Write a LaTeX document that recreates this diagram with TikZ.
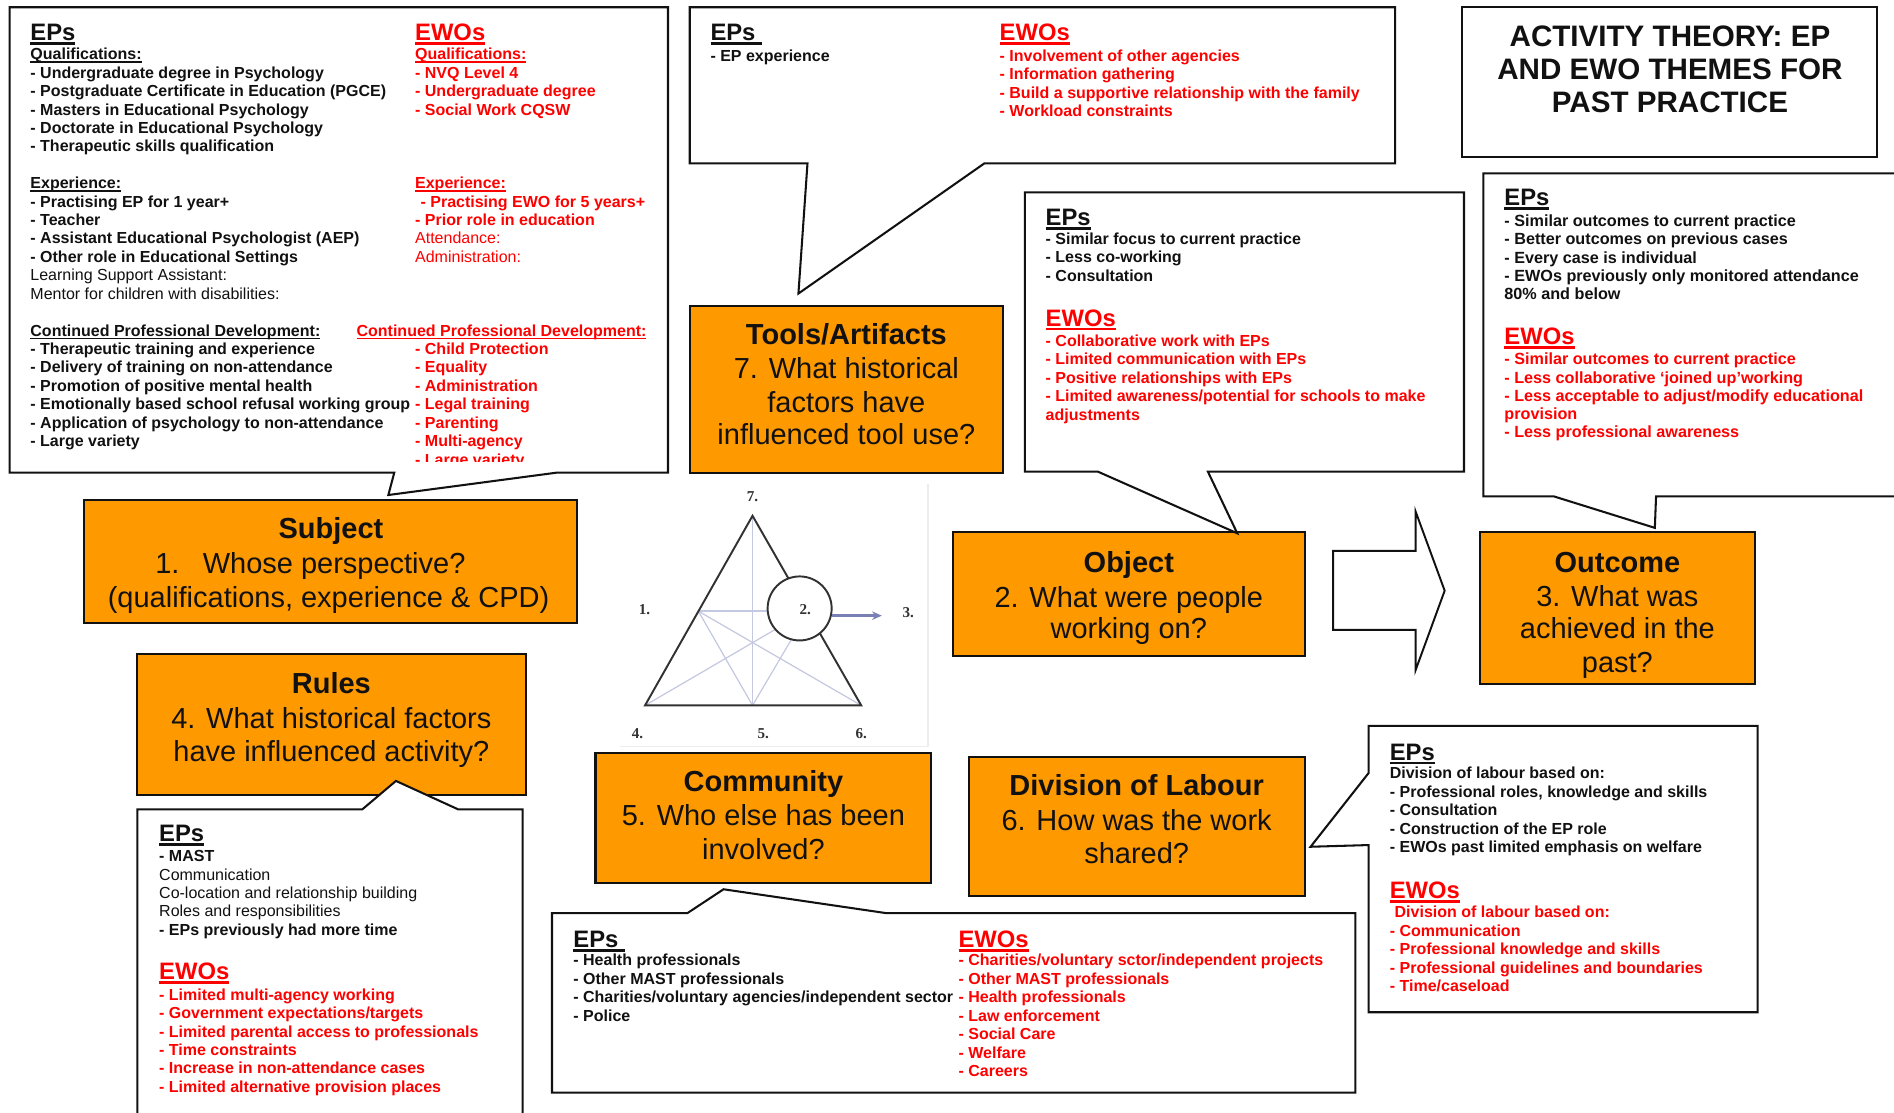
\documentclass[tikz,border=0pt]{standalone}
\usepackage{fontspec}
\setmainfont{Liberation Sans}
\newfontfamily\labserif{Liberation Serif}
\usetikzlibrary{arrows.meta}

\definecolor{orng}{RGB}{255,153,0}
\definecolor{ewored}{RGB}{255,0,0}
\definecolor{ink}{RGB}{17,17,17}
\definecolor{faintline}{RGB}{196,200,224}
\definecolor{figarrow}{RGB}{120,128,180}
\definecolor{figink}{RGB}{50,50,50}

% underlined headings and sub-headings
\newcommand\headul[1]{\setbox0\hbox{#1}\rlap{\rule[-3.4pt]{\wd0}{2.1pt}}\box0}
\newcommand\subul[1]{\setbox0\hbox{#1}\rlap{\rule[-2.3pt]{\wd0}{1.1pt}}\box0}
% a block of lines with a fixed line pitch; its baseline is the first line's
\newcommand\tline[1]{\hbox{#1}}
\newcommand\tblock[2]{\vtop{\baselineskip=#1\lineskiplimit=-1000pt\lineskip=0pt\relax #2}}
\newcommand\bodyf{\fontsize{13.25}{15.25}\selectfont\bfseries}
\newcommand\bodyfl{\fontsize{13.4}{15.1}\selectfont\bfseries}

\tikzset{
  callout/.style={draw=ink, line width=1.7pt, fill=white, line join=miter},
  obox/.style={draw=ink, line width=1.7pt, fill=orng, inner sep=0pt},
  txt/.style={inner sep=0pt, anchor=base west, text=ink, font=\bodyf},
  redtxt/.style={txt, text=ewored},
  head/.style={inner sep=0pt, anchor=base west, text=ink, font=\fontsize{19.7}{22}\selectfont\bfseries},
  redhead/.style={head, text=ewored},
  boxtxt/.style={inner sep=0pt, anchor=base, text=ink, font=\fontsize{24}{28}\selectfont},
  boxhead/.style={boxtxt, font=\fontsize{24}{28}\selectfont\bfseries},
  figlab/.style={inner sep=0pt, text=figink, font=\labserif\fontsize{12.5}{14}\selectfont\bfseries},
  figline/.style={draw=faintline, line width=1pt},
  figedge/.style={draw=figink, line width=1.6pt},
}

\begin{document}
\begin{tikzpicture}[x=1pt,y=-1pt]
\useasboundingbox (0,0) rectangle (1568,921);
\fill[white] (0,0) rectangle (1568,921);

% ---------- orange activity-system boxes ----------
\node[obox, minimum width=407.9pt, minimum height=102pt]   (subjectbox)   at (273.45,465)   {};
\node[obox, minimum width=322.2pt, minimum height=116.4pt] (rulesbox)     at (274.3,599.8)  {};
\node[obox, minimum width=259.5pt, minimum height=138.5pt] (toolsbox)     at (700.75,322.55) {};
\node[obox, minimum width=291pt,   minimum height=102.3pt] (objectbox)    at (934.5,491.85) {};
\node[obox, minimum width=228pt,   minimum height=125.8pt] (outcomebox)   at (1339,503.6)   {};
\node[obox, minimum width=277.6pt, minimum height=107.6pt] (communitybox) at (631.8,677.4)  {};
\node[obox, minimum width=278.3pt, minimum height=114.4pt] (divisionbox)  at (941.15,684.2) {};

% ---------- title ----------
\node[draw=ink, line width=1.7pt, minimum width=343.7pt, minimum height=124.1pt, inner sep=0pt] (titlebox) at (1382.15,68.15) {};

% ---------- speech-bubble callouts ----------
\draw[callout] (8,6) -- (553,6) -- (553,391.3) -- (460.8,391.3) -- (321.5,409.8) -- (326.4,391.3) -- (8,391.3) -- cycle;
\draw[callout] (571,6) -- (1155,6) -- (1155,135.2) -- (815,135.2) -- (661,243) -- (668.5,135.2) -- (571,135.2) -- cycle;
\draw[callout] (848.4,159.2) -- (1212,159.2) -- (1212,390.5) -- (1000,390.5) -- (1024.3,441.5) -- (909,390.5) -- (848.4,390.5) -- cycle;
\draw[callout] (1620,143.5) -- (1228,143.5) -- (1228,411) -- (1286.6,411) -- (1370,437) -- (1371,411) -- (1620,411);
\draw[callout] (113.7,940) -- (113.7,670) -- (300,670) -- (327.8,646.5) -- (379.2,670) -- (432.7,670) -- (432.7,940);
\draw[callout] (457,756) -- (569,756) -- (599,736.2) -- (734,756) -- (1122,756) -- (1122,904.6) -- (457,904.6) -- cycle;
\draw[callout] (1133,601) -- (1455,601) -- (1455,838) -- (1133,838) -- (1133,699.6) -- (1085,701) -- (1133,640) -- cycle;

% ---------- hollow block arrow: object to outcome ----------
\draw[callout, line width=1.6pt] (1103.6,456) -- (1172,456) -- (1172,423.6) -- (1196,489) -- (1172,554.6) -- (1172,521.5) -- (1103.6,521.5) -- cycle;

% ---------- activity-theory triangle ----------
\draw[draw=black!7, line width=1.4pt] (513,618) -- (768,618) -- (768,401);
\coordinate (apex) at (623,427);
\coordinate (bl) at (534,584);
\coordinate (br) at (713,584);
\coordinate (bm) at (623,584);
\coordinate (lm) at (578.1,505.9);
\coordinate (ctr) at (662,503.7);
\draw[figline] (apex) -- (bm);
\draw[figline] (lm) -- (637.3,505.9);
\draw[figline] (lm) -- (bm);
\draw[figline] (lm) -- (br);
\draw[figline] (bl) -- (642,521);
\draw[figline] (bm) -- (655,529.7);
\draw[figedge, line join=miter] (apex) -- (bl) -- (br) -- cycle;
\draw[figedge, fill=white] (ctr) circle[radius=26.5];
\draw[draw=figarrow, line width=2pt, -{Stealth[length=8pt,width=7pt]}] (688.5,509.7) -- (730,509.7);
\node[figlab] (lab7) at (623,411) {7.};
\node[figlab] (lab1) at (533.5,505) {1.};
\node[figlab] (lab2) at (666.7,505) {2.};
\node[figlab] (lab3) at (752,507) {3.};
\node[figlab] (lab4) at (527.7,607) {4.};
\node[figlab] (lab5) at (631.8,607) {5.};
\node[figlab] (lab6) at (713,607) {6.};

% ---------- title text ----------
\node[inner sep=0pt, anchor=base, text=ink, font=\fontsize{24.5}{27}\selectfont\bfseries] (titletext) at (1382.5,38.3)
  {\tblock{27.6pt}{\hbox to 0pt{\hss ACTIVITY THEORY: EP\hss}\hbox to 0pt{\hss AND EWO THEMES FOR\hss}\hbox to 0pt{\hss PAST PRACTICE\hss}}};

% ---------- orange box texts ----------
\node[boxhead] (subjectT) at (274,446) {Subject};
\node[boxtxt, anchor=base west] (subjectN) at (128.4,474.5) {1.};
\node[boxtxt, anchor=base west] (subjectQ) at (167.7,474.5) {Whose perspective?};
\node[boxtxt] (subjectQ2) at (272,502.6) {(qualifications, experience \& CPD)};

\node[boxhead] (rulesT) at (274.3,574.2) {Rules};
\node[boxtxt] (rulesQ1) at (274.3,602.9) {4. What historical factors};
\node[boxtxt] (rulesQ2) at (274.3,630.5) {have influenced activity?};

\node[boxhead] (toolsT) at (700.7,285) {Tools/Artifacts};
\node[boxtxt] (toolsQ1) at (700.7,313.1) {7. What historical};
\node[boxtxt] (toolsQ2) at (700.7,341.5) {factors have};
\node[boxtxt] (toolsQ3) at (700.7,368.2) {influenced tool use?};

\node[boxhead] (objectT) at (934.5,473.6) {Object};
\node[boxtxt] (objectQ1) at (934.5,502.6) {2. What were people};
\node[boxtxt] (objectQ2) at (934.5,528.9) {working on?};

\node[boxhead] (outcomeT) at (1339,473.6) {Outcome};
\node[boxtxt] (outcomeQ1) at (1339,502.1) {3. What was};
\node[boxtxt] (outcomeQ2) at (1339,528.9) {achieved in the};
\node[boxtxt] (outcomeQ3) at (1339,556.6) {past?};

\node[boxhead] (communityT) at (632,655.6) {Community};
\node[boxtxt] (communityQ1) at (632,683.6) {5. Who else has been};
\node[boxtxt] (communityQ2) at (632,711.6) {involved?};

\node[boxhead] (divisionT) at (941,658.6) {Division of Labour};
\node[boxtxt] (divisionQ1) at (941,687.6) {6. How was the work};
\node[boxtxt] (divisionQ2) at (941,714.6) {shared?};

% ---------- subject callout ----------
\node[head] (subjEPh) at (25,33.5) {\headul{EPs}};
\node[redhead] (subjEWh) at (343.5,33.5) {\headul{EWOs}};
\node[txt] (subjEP) at (25,49.5) {\tblock{15.25pt}{%
  \tline{\subul{Qualifications:}}
  \tline{- Undergraduate degree in Psychology}
  \tline{- Postgraduate Certificate in Education (PGCE)}
  \tline{- Masters in Educational Psychology}
  \tline{- Doctorate in Educational Psychology}
  \tline{- Therapeutic skills qualification}
  \tline{}
  \tline{\subul{Experience:}}
  \tline{- Practising EP for 1 year+}
  \tline{- Teacher}
  \tline{- Assistant Educational Psychologist (AEP)}
  \tline{- Other role in Educational Settings}
  \tline{\mdseries Learning Support Assistant:}
  \tline{\mdseries Mentor for children with disabilities:}
  \tline{}
  \tline{\subul{Continued Professional Development:}}
  \tline{- Therapeutic training and experience}
  \tline{- Delivery of training on non-attendance}
  \tline{- Promotion of positive mental health}
  \tline{- Emotionally based school refusal working group}
  \tline{- Application of psychology to non-attendance}
  \tline{- Large variety}}};
\node[redtxt] (subjEWcpd) at (295,278.25) {\subul{Continued Professional Development:}};
\begin{scope}
\clip (330,20) rectangle (552,382.3);
\node[redtxt] (subjEW) at (343.5,49.5) {\tblock{15.25pt}{%
  \tline{\subul{Qualifications:}}
  \tline{- NVQ Level 4}
  \tline{- Undergraduate degree}
  \tline{- Social Work CQSW}
  \tline{}\tline{}\tline{}
  \tline{\subul{Experience:}}
  \tline{\kern4.5pt- Practising EWO for 5 years+}
  \tline{- Prior role in education}
  \tline{\mdseries Attendance:}
  \tline{\mdseries Administration:}
  \tline{}\tline{}\tline{}\tline{}
  \tline{- Child Protection}
  \tline{- Equality}
  \tline{- Administration}
  \tline{- Legal training}
  \tline{- Parenting}
  \tline{- Multi-agency}
  \tline{- Large variety}}};
\end{scope}

% ---------- tools callout ----------
\node[head] (toolEPh) at (588,33.7) {\headul{EPs\ }};
\node[txt] (toolEP) at (588,50.7) {- EP experience};
\node[redhead] (toolEWh) at (827.4,33.7) {\headul{EWOs}};
\node[redtxt] (toolEW) at (827.4,50.7) {\tblock{15.3pt}{%
  \tline{- Involvement of other agencies}
  \tline{- Information gathering}
  \tline{- Build a supportive relationship with the family}
  \tline{- Workload constraints}}};

% ---------- object callout ----------
\node[head] (objEPh) at (865.5,186.6) {\headul{EPs}};
\node[txt] (objEP) at (865.5,202.3) {\tblock{15.3pt}{%
  \tline{- Similar focus to current practice}
  \tline{- Less co-working}
  \tline{- Consultation}}};
\node[redhead] (objEWh) at (865.5,270) {\headul{EWOs}};
\node[redtxt] (objEW) at (865.5,286.8) {\tblock{15.3pt}{%
  \tline{- Collaborative work with EPs}
  \tline{- Limited communication with EPs}
  \tline{- Positive relationships with EPs}
  \tline{- Limited awareness/potential for schools to make}
  \tline{adjustments}}};

% ---------- outcome callout ----------
\node[head] (outEPh) at (1245.3,170.1) {\headul{EPs}};
\node[txt, font=\bodyfl] (outEP) at (1245.3,187.7) {\tblock{15.1pt}{%
  \tline{- Similar outcomes to current practice}
  \tline{- Better outcomes on previous cases}
  \tline{- Every case is individual}
  \tline{- EWOs previously only monitored attendance}
  \tline{80\% and below}}};
\node[redhead] (outEWh) at (1245.3,285.3) {\headul{EWOs}};
\node[redtxt, font=\bodyfl] (outEW) at (1245.3,302.1) {\tblock{15.05pt}{%
  \tline{- Similar outcomes to current practice}
  \tline{- Less collaborative ‘joined up’working}
  \tline{- Less acceptable to adjust/modify educational}
  \tline{provision}
  \tline{- Less professional awareness}}};

% ---------- rules callout ----------
\node[head] (rulEPh) at (131.6,696.8) {\headul{EPs}};
\node[txt] (rulEP) at (131.6,713.5) {\tblock{15.2pt}{%
  \tline{- MAST}
  \tline{\mdseries Communication}
  \tline{\mdseries Co-location and relationship building}
  \tline{\mdseries Roles and responsibilities}
  \tline{- EPs previously had more time}}};
\node[redhead] (rulEWh) at (131.6,811.2) {\headul{EWOs}};
\node[redtxt] (rulEW) at (131.6,828.2) {\tblock{15.2pt}{%
  \tline{- Limited multi-agency working}
  \tline{- Government expectations/targets}
  \tline{- Limited parental access to professionals}
  \tline{- Time constraints}
  \tline{- Increase in non-attendance cases}
  \tline{- Limited alternative provision places}}};

% ---------- community callout ----------
\node[head] (comEPh) at (474.5,784.6) {\headul{EPs\ }};
\node[txt] (comEP) at (474.5,799.7) {\tblock{15.25pt}{%
  \tline{- Health professionals}
  \tline{- Other MAST professionals}
  \tline{- Charities/voluntary agencies/independent sector}
  \tline{- Police}}};
\node[redhead] (comEWh) at (793.4,784.6) {\headul{EWOs}};
\node[redtxt] (comEW) at (793.4,799.7) {\tblock{15.3pt}{%
  \tline{- Charities/voluntary sctor/independent projects}
  \tline{- Other MAST professionals}
  \tline{- Health professionals}
  \tline{- Law enforcement}
  \tline{- Social Care}
  \tline{- Welfare}
  \tline{- Careers}}};

% ---------- division of labour callout ----------
\node[head] (divEPh) at (1150.4,629.2) {\headul{EPs}};
\node[txt] (divEP) at (1150.4,644.7) {\tblock{15.3pt}{%
  \tline{Division of labour based on:}
  \tline{- Professional roles, knowledge and skills}
  \tline{- Consultation}
  \tline{- Construction of the EP role}
  \tline{- EWOs past limited emphasis on welfare}}};
\node[redhead] (divEWh) at (1150.4,743.8) {\headul{EWOs}};
\node[redtxt] (divEW) at (1150.4,759.8) {\tblock{15.3pt}{%
  \tline{\kern4pt Division of labour based on:}
  \tline{- Communication}
  \tline{- Professional knowledge and skills}
  \tline{- Professional guidelines and boundaries}
  \tline{- Time/caseload}}};

\end{tikzpicture}
\end{document}
